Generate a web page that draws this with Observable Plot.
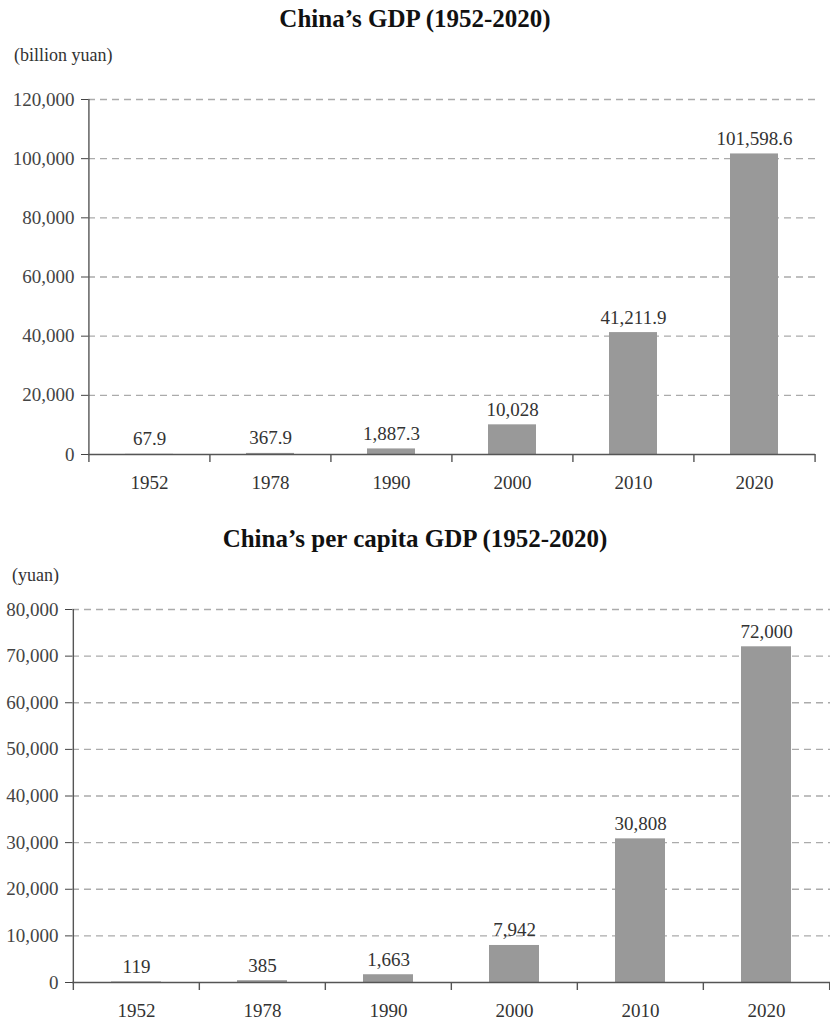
<!DOCTYPE html>
<html><head><meta charset="utf-8">
<script src="https://cdn.jsdelivr.net/npm/d3@7"></script>
<script src="https://cdn.jsdelivr.net/npm/@observablehq/plot@0.6"></script>
<style>
body{margin:0;background:#fff;font-family:"Liberation Serif","Times New Roman",serif;}
#wrap{width:830px;}
.title{text-align:center;font-weight:bold;font-size:25px;color:#111;}
.unit{font-size:18px;color:#333;}
svg{display:block}
</style></head><body><div id="wrap">
<div class="title" style="height:38px;line-height:38px">China’s GDP (1952-2020)</div>
<div class="unit" style="height:34px;line-height:34px;padding-left:14px">(billion yuan)</div>
<div id="c1"></div>
<div class="title" style="height:30px;line-height:30px">China’s per capita GDP (1952-2020)</div>
<div class="unit" style="height:42px;line-height:42px;padding-left:12px">(yuan)</div>
<div id="c2"></div>
</div>
<script>
const years = ["1952", "1978", "1990", "2000", "2010", "2020"];
const gdp = [67.9, 367.9, 1887.3, 10028, 41211.9, 101598.6];
const gdpTicks = [0, 20000, 40000, 60000, 80000, 100000, 120000];
const perCapita = [119, 385, 1663, 7942, 30808, 72000];
const perCapitaTicks = [0, 10000, 20000, 30000, 40000, 50000, 60000, 70000, 80000];

const fmt = d3.format(",");

function chart({values, ticks, width, height, marginLeft, marginRight, marginTop, marginBottom}) {
  const data = years.map((year, i) => ({year, value: values[i]}));
  const plotW = width - marginLeft - marginRight;
  const half = plotW / years.length / 2;
  const top = ticks[ticks.length - 1];
  const axisColor = "#555";
  return Plot.plot({
    width, height, marginLeft, marginRight, marginTop, marginBottom,
    style: {fontFamily: "'Liberation Serif', 'Times New Roman', serif", fontSize: "19px", color: "#333", background: "#fff"},
    x: {type: "band", domain: years, paddingInner: 0.6, paddingOuter: 0.3, label: null},
    y: {domain: [0, top], label: null},
    marks: [
      Plot.ruleY(ticks.slice(1), {stroke: "#ababab", strokeDasharray: "7,5", strokeWidth: 1.3}),
      Plot.barY(data, {x: "year", y: "value", fill: "#999"}),
      Plot.ruleY([0], {stroke: axisColor, strokeWidth: 1.4}),
      Plot.ruleX([years[0]], {x: d => d, dx: -half, y1: top, y2: 0, insetBottom: -8, stroke: axisColor, strokeWidth: 1.4}),
      Plot.ruleX(years.slice(1), {x: d => d, dx: -half, y1: 0, y2: 0, insetBottom: -8, stroke: axisColor, strokeWidth: 1.4}),
      Plot.ruleX([years[years.length - 1]], {x: d => d, dx: half, y1: 0, y2: 0, insetBottom: -8, stroke: axisColor, strokeWidth: 1.4}),
      Plot.axisY(ticks, {tickSize: 7, tickPadding: 7, tickFormat: fmt, color: "#444", fontSize: 19}),
      Plot.axisX({tickSize: 0, tickPadding: 21, color: "#333", fontSize: 19}),
      Plot.text(data, {x: "year", y: "value", text: d => fmt(d.value), lineAnchor: "bottom", dy: -9, fill: "#333", fontSize: 19})
    ]
  });
}

document.getElementById("c1").append(chart({
  values: gdp, ticks: gdpTicks, width: 830, height: 452,
  marginLeft: 88, marginRight: 15, marginTop: 27, marginBottom: 70
}));
document.getElementById("c2").append(chart({
  values: perCapita, ticks: perCapitaTicks, width: 830, height: 424,
  marginLeft: 72, marginRight: 0, marginTop: 13, marginBottom: 38
}));
</script>
</body></html>
